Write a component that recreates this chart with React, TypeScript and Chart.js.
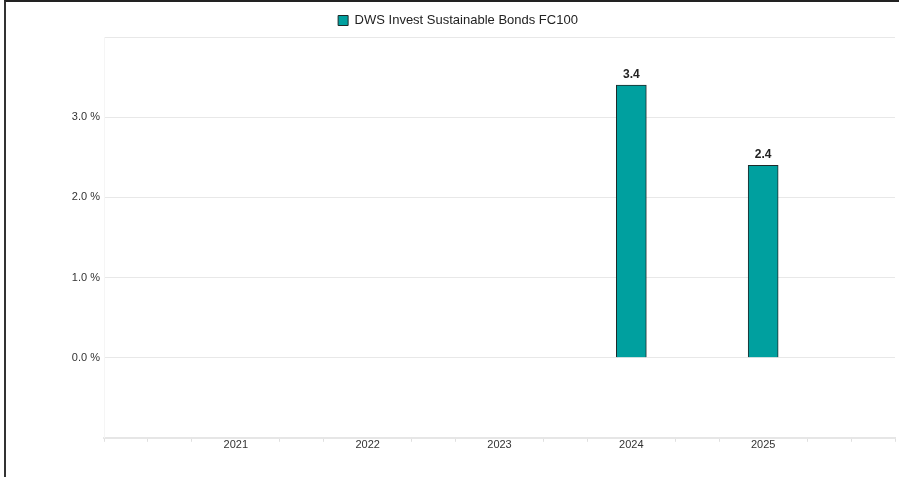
import React, { useEffect, useRef } from "react";
import { Chart, registerables } from "chart.js";

Chart.register(...registerables);

const years = ["2021", "2022", "2023", "2024", "2025"];
const values: (number | null)[] = [null, null, null, 3.4, 2.4];
const seriesName = "DWS Invest Sustainable Bonds FC100";
const yTicks = [0, 1, 2, 3];

const SLOTS_PER_YEAR = 3;
const TOTAL_SLOTS = SLOTS_PER_YEAR * (years.length + 1) + 1;

const labels: string[] = [];
const slotValues: (number | null)[] = [];
for (let i = 0; i < TOTAL_SLOTS; i++) {
  const yi = i / SLOTS_PER_YEAR - 1;
  if (i % SLOTS_PER_YEAR === 0 && yi >= 0 && yi < years.length) {
    labels.push(years[yi]);
    slotValues.push(values[yi]);
  } else {
    labels.push("");
    slotValues.push(null);
  }
}

const valueLabels = {
  id: "valueLabels",
  afterDatasetsDraw(chart: any) {
    const ctx = chart.ctx;
    const meta = chart.getDatasetMeta(0);
    ctx.save();
    ctx.font = 'bold 12px Arial, "Liberation Sans", sans-serif';
    ctx.fillStyle = "#222";
    ctx.textAlign = "center";
    ctx.textBaseline = "alphabetic";
    meta.data.forEach((el: any, i: number) => {
      const v = slotValues[i];
      if (v === null || v === undefined) return;
      ctx.fillText(v.toFixed(1), el.x, el.y - 7);
    });
    ctx.restore();
  },
};

export default function App() {
  const ref = useRef<HTMLCanvasElement>(null);
  useEffect(() => {
    if (!ref.current) return;
    Chart.defaults.font.family = 'Arial, "Liberation Sans", sans-serif';
    const chart = new Chart(ref.current, {
      type: "bar",
      data: {
        labels,
        datasets: [
          {
            label: seriesName,
            data: slotValues,
            backgroundColor: "#00a09f",
            borderColor: "#1e2a2a",
            borderWidth: 1,
            barThickness: 30,
          },
        ],
      },
      options: {
        animation: false,
        responsive: false,
        maintainAspectRatio: false,
        layout: { padding: { left: 21, right: 4, top: 4, bottom: 28 } },
        plugins: {
          tooltip: { enabled: false },
          legend: {
            position: "top",
            align: "center",
            labels: {
              boxWidth: 10,
              boxHeight: 10,
              color: "#222",
              font: { size: 13 },
              padding: 10,
            },
          },
        },
        scales: {
          x: {
            offset: false,
            grid: {
              offset: false,
              drawOnChartArea: false,
              drawTicks: true,
              tickLength: 4,
              tickColor: (c: any) => {
                const idx = c.index;
                return labels[idx] ? "rgba(0,0,0,0)" : "#e0e0e0";
              },
            },
            border: { display: true, color: "#e6e6e6", width: 2 },
            ticks: {
              autoSkip: false,
              maxRotation: 0,
              color: "#333",
              font: { size: 11 },
              padding: -3,
            },
          },
          y: {
            min: -1,
            max: 4,
            afterFit: (s: any) => {
              s.width = 83;
            },
            grid: { color: "#e8e8e8", drawTicks: false },
            border: { display: true, color: "#f5f5f5" },
            ticks: {
              stepSize: 1,
              padding: 4,
              color: "#333",
              font: { size: 11 },
              callback: (v: any) =>
                yTicks.includes(Number(v)) ? Number(v).toFixed(1) + " %" : "",
            },
          },
        },
      },
      plugins: [valueLabels],
    });
    return () => chart.destroy();
  }, []);

  return (
    <div style={{ position: "absolute", left: 0, top: 0, width: 899, height: 477, background: "#fff" }}>
      <canvas ref={ref} width={899} height={477} style={{ position: "absolute", left: 0, top: 0, width: 899, height: 477 }} />
      <div
        style={{
          position: "absolute",
          left: 4,
          top: 0,
          width: 895,
          height: 477,
          boxSizing: "border-box",
          borderLeft: "2px solid #333",
          borderTop: "2px solid #222",
          pointerEvents: "none",
        }}
      />
    </div>
  );
}
